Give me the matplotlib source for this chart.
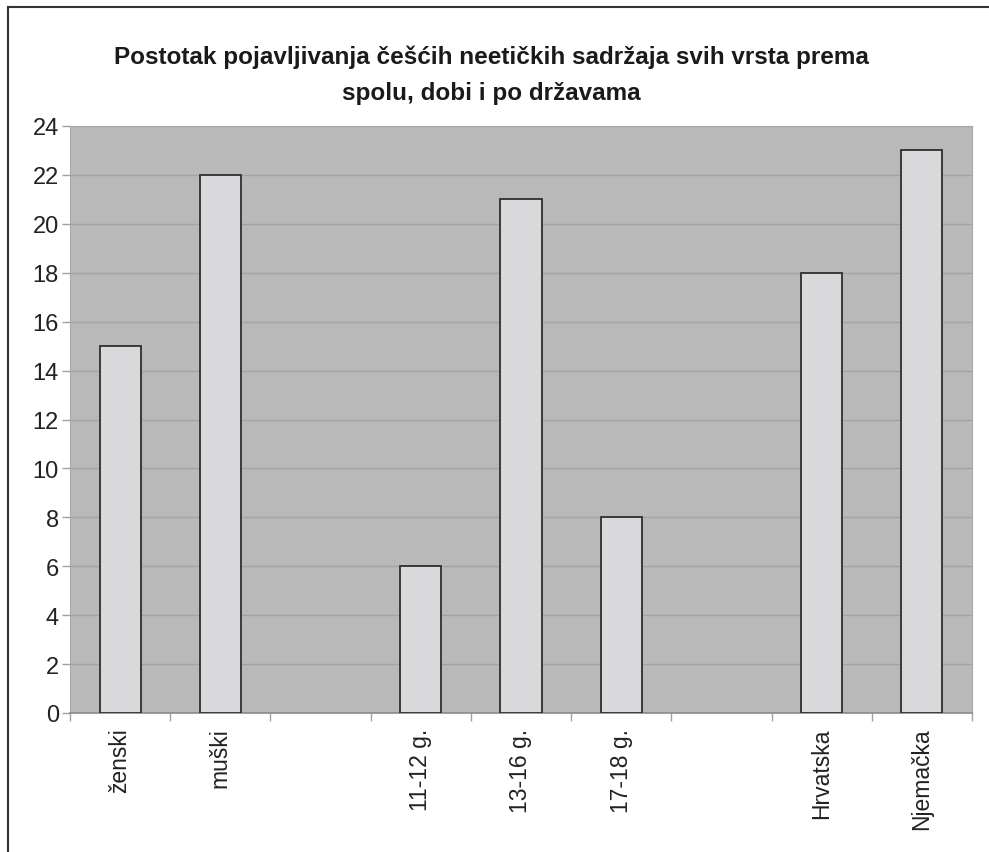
import numpy as np
import matplotlib.pyplot as plt
from matplotlib.lines import Line2D

plt.rcParams['font.family'] = ['Liberation Sans', 'DejaVu Sans']

categories = ["ženski", "muški", "", "11-12 g.", "13-16 g.", "17-18 g.", "", "Hrvatska", "Njemačka"]
values     = [15, 22, 0, 6, 21, 8, 0, 18, 23]
has_bar    = [True, True, False, True, True, True, False, True, True]
yticks     = np.arange(0, 25, 2)

title = "Postotak pojavljivanja češćih neetičkih sadržaja svih vrsta prema\nspolu, dobi i po državama"

fig = plt.figure(figsize=(9.89, 8.53), dpi=100)
ax = fig.add_axes([70/989, 1-714/853, 902/989, 587/853])

x = np.arange(len(categories))
xb = [xi for xi, h in zip(x, has_bar) if h]
vb = [v for v, h in zip(values, has_bar) if h]

ax.set_facecolor('#b9b9b9')
ax.bar(xb, vb, width=0.41, color='#d9d9dc', edgecolor='#2e2e2e', linewidth=1.3, zorder=3)

ax.set_xlim(-0.5, len(categories) - 0.5)
ax.set_ylim(0, 24)
ax.set_yticks(yticks)
ax.yaxis.grid(True, color='#a3a3a3', linewidth=1.0, zorder=0)
ax.set_axisbelow(True)

# category labels under slot centres, tick marks on slot boundaries
ax.set_xticks(np.arange(-0.5, len(categories), 1.0))
ax.set_xticklabels([])
ax.tick_params(axis='x', length=6, color='#a0a0a0', width=1)
ax.tick_params(axis='y', length=6, color='#a0a0a0', width=1, labelsize=17, pad=2,
               labelcolor='#222222')
for xi, lab in zip(x, categories):
    if lab:
        ax.text(xi, -0.6, lab, rotation=90, ha='center', va='top', fontsize=16.5,
                color='#222222')

for s in ['left', 'right', 'top']:
    ax.spines[s].set_color('#a8a8a8')
ax.spines['bottom'].set_color('#8a8a8a')
ax.spines['bottom'].set_linewidth(1.2)

fig.text(0.497, 1-75/853, title, ha='center', va='center', fontsize=17.5,
         fontweight='bold', linespacing=1.7, color='#1a1a1a')

# outer frame (left and top edges)
fig.add_artist(Line2D([8/989, 8/989], [0, 1-8/853], color='#333333', linewidth=1.5))
fig.add_artist(Line2D([8/989, 1], [1-8/853, 1-8/853], color='#333333', linewidth=1.5))

plt.savefig('out.png', dpi=100)
